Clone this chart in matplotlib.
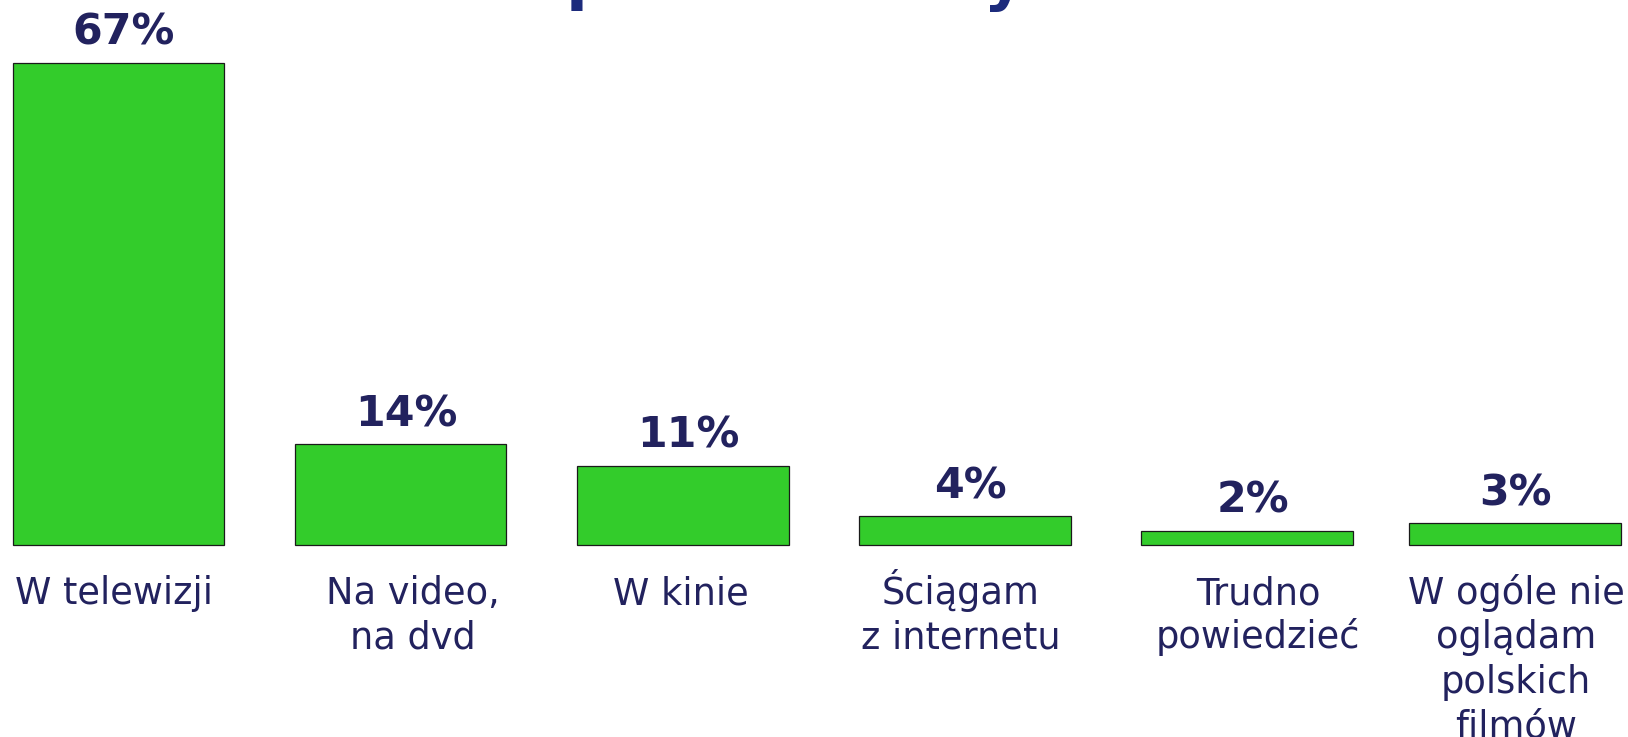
import matplotlib
matplotlib.use("Agg")
import matplotlib.pyplot as plt

categories = ["W telewizji", "Na video,\nna dvd", "W kinie", "Ściągam\nz internetu",
              "Trudno\npowiedzieć", "W ogóle nie\noglądam\npolskich\nfilmów"]
positions = [0, 1, 2, 3, 4, 4.95]
values = [67, 14, 11, 4, 2, 3]
value_labels = ["67%", "14%", "11%", "4%", "2%", "3%"]
title = "Gdzie najczęściej oglądasz\npolskie filmy?"

W, H, DPI = 1628, 737, 100
fig = plt.figure(figsize=(W / DPI, H / DPI), dpi=DPI)
ax = fig.add_axes([0, 0, 1, 1])
ax.set_axis_off()

spacing_px = 282.2
center0_px = 118.4
xmin = -center0_px / spacing_px
xmax = xmin + W / spacing_px
ax.set_xlim(xmin, xmax)

px_per_unit = 482.0 / 67.0
base_px = 737 - 545
ax.set_ylim(-base_px / px_per_unit, (H - base_px) / px_per_unit)

navy = "#22225e"
bars = ax.bar(positions, values, width=0.75, color="#33cc2b", edgecolor="#1a1a1a", linewidth=0.9)

# horizontal nudges of the value labels (points), as in the original layout
value_dx = [3.8, 3.8, 3.8, 3.8, 3.8, 0]
for xi, v, lab, dx in zip(positions, values, value_labels, value_dx):
    ax.annotate(lab, (xi, v), xytext=(dx, 13), textcoords="offset points",
                ha="center", va="baseline", fontsize=30.8, fontweight="bold", color=navy)

# horizontal nudges of the category labels (points), as in the original layout
label_dx = [-3, 8.5, -1.5, -3, 8, 0.5]
first_baseline_pt = -42.5
line_gap_pt = 32.0
for xi, cat, dx in zip(positions, categories, label_dx):
    for k, line in enumerate(cat.split("\n")):
        ax.annotate(line, (xi, 0), xytext=(dx, first_baseline_pt - k * line_gap_pt),
                    textcoords="offset points", ha="center", va="baseline",
                    fontsize=26.5, color=navy, annotation_clip=False)

fig.text(0.5, 1.0 + 2 / H, title, ha="center", va="baseline", fontsize=46,
         fontweight="bold", color="#1c2b7c", multialignment="center")

fig.savefig("out.png", dpi=DPI)
